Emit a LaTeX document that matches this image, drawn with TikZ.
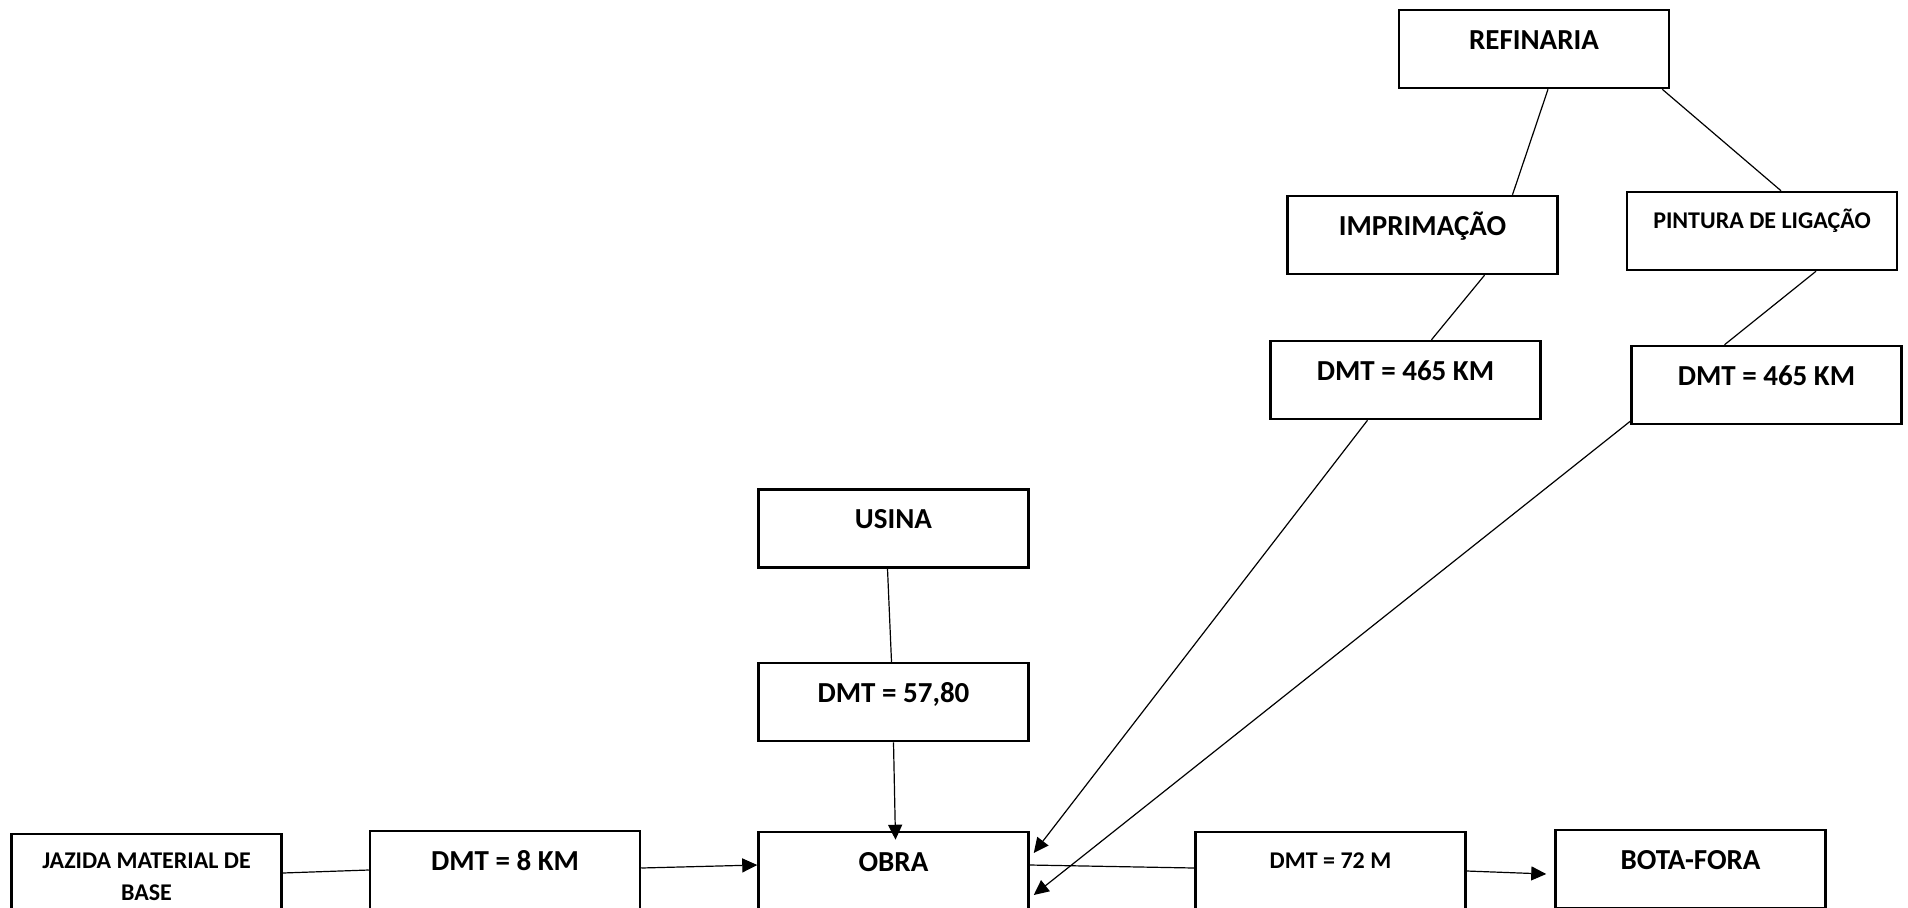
\documentclass[tikz,border=0pt]{standalone}
\usepackage{fontspec}
\setmainfont{Carlito}
\usetikzlibrary{arrows.meta}

\begin{document}
\begin{tikzpicture}[x=0.5pt,y=-0.5pt]
\tikzstyle{every node}+=[inner sep=0pt]
\tikzstyle{box}=[draw=black, line width=1.25pt, minimum width=135pt, minimum height=39pt]
\tikzstyle{bigtext}=[font=\bfseries\fontsize{14.5}{17}\selectfont, text height=19.5pt, text depth=19.5pt]
\tikzstyle{smalltext}=[font=\bfseries\fontsize{12}{16}\selectfont, text height=18pt, text depth=21pt]
\tikzstyle{link}=[black, line width=0.6pt]
\tikzstyle{flow}=[link, -{Triangle[length=7.5pt,width=7pt]}]
\useasboundingbox (0,0) rectangle (1908,907);
\node [box,bigtext] (refinaria) at (1534,49) {REFINARIA};
\node [box,bigtext] (imprimacao) at (1422.5,235) {IMPRIMAÇÃO};
\node [box,smalltext] (pintura) at (1762,231) {PINTURA DE LIGAÇÃO};
\node [box,bigtext] (dmtimp) at (1405.5,380) {DMT = 465 KM};
\node [box,bigtext] (dmtpint) at (1766.5,385) {DMT = 465 KM};
\node [box,bigtext] (usina) at (893.5,528.5) {USINA};
\node [box,bigtext] (dmtusina) at (893.5,702) {DMT = 57,80};
\node [box,bigtext] (obra) at (893.5,871) {OBRA};
\node [box,smalltext,text height=17pt,text depth=22pt] (jazida) at (146.5,873)
  {\parbox[t]{135pt}{\centering JAZIDA MATERIAL DE\\BASE}};
\node [box,bigtext] (dmtjaz) at (505,870) {DMT = 8 KM};
\node [box,smalltext] (dmtbota) at (1330.5,871) {DMT = 72 M};
\node [box,bigtext] (botafora) at (1690.5,869) {BOTA-FORA};
\draw [link] ([xshift=7pt]refinaria.south) -- ([xshift=45pt]imprimacao.north);
\draw [link] ([xshift=-4pt]refinaria.south east) -- ([xshift=9.5pt]pintura.north);
\draw [link] ([xshift=31pt]imprimacao.south) -- ([xshift=13pt]dmtimp.north);
\draw [link] ([xshift=27pt]pintura.south) -- ([xshift=-21pt]dmtpint.north);
\draw [flow] ([xshift=-19pt]dmtimp.south) -- ([xshift=2pt,yshift=9pt]obra.east);
\draw [flow] ([yshift=2pt]dmtpint.south west) -- ([xshift=2pt,yshift=-12pt]obra.east);
\draw [link] ([xshift=-3pt]usina.south) -- ([xshift=-1pt]dmtusina.north);
\draw [flow] (dmtusina.south) -- ([xshift=1pt,yshift=-4.5pt]obra.north);
\draw [link] (jazida.east) -- (dmtjaz.west);
\draw [flow] ([yshift=1pt]dmtjaz.east) -- ([yshift=3pt]obra.west);
\draw [link] ([yshift=3pt]obra.east) -- ([yshift=1.5pt]dmtbota.west);
\draw [flow] (dmtbota.east) -- ([xshift=-4pt,yshift=-2.5pt]botafora.west);
\end{tikzpicture}
\end{document}
